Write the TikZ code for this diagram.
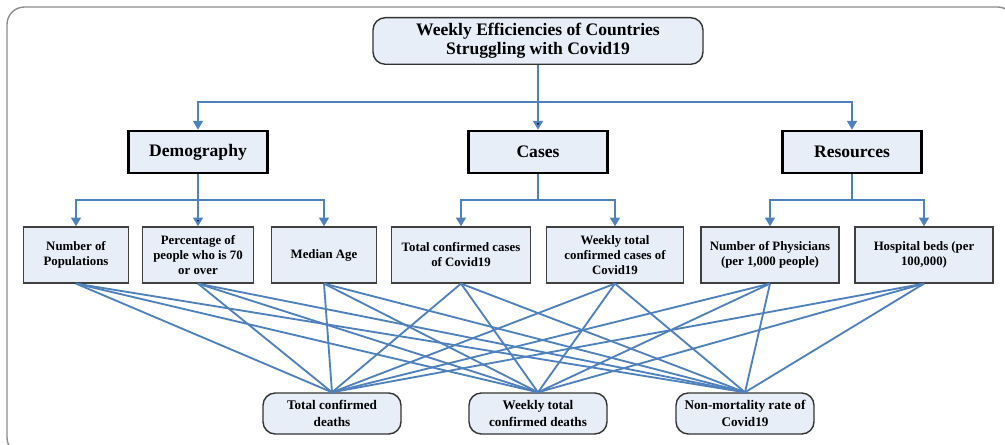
\documentclass[tikz,border=0pt]{standalone}
\usepackage{fontspec}
\setmainfont{Liberation Serif}
\usepackage{tikz}
\usetikzlibrary{positioning,arrows.meta}
\definecolor{linkblue}{RGB}{79,129,189}
\definecolor{boxfill}{RGB}{232,238,248}

\begin{document}
\begin{tikzpicture}[
	root/.style={shape=rectangle,rounded corners=7pt,draw=black!80,fill=boxfill,line width=0.8pt,minimum width=6.6cm,minimum height=0.84cm,align=center,font=\rmfamily\fontsize{10}{10.6}\selectfont\bfseries},
	group/.style={shape=rectangle,draw=black,fill=boxfill,line width=1.4pt,minimum width=2.78cm,minimum height=0.84cm,font=\rmfamily\fontsize{10}{12}\selectfont\bfseries},
	factor/.style={shape=rectangle,draw=black!75,fill=boxfill,line width=0.7pt,minimum height=1.12cm,inner sep=1pt,align=center,font=\rmfamily\fontsize{7.3}{8.5}\selectfont\bfseries},
	output/.style={shape=rectangle,rounded corners=7pt,draw=black!80,fill=boxfill,line width=0.8pt,minimum width=2.76cm,minimum height=0.82cm,align=center,font=\rmfamily\fontsize{7.5}{9.2}\selectfont\bfseries},
	branch/.style={draw=linkblue,line width=1.3pt,-{Triangle[width=5.5pt,length=5pt]}},
	link/.style={draw=linkblue,line width=1.05pt}]
			\useasboundingbox (0,0) rectangle (20.1,-8.9);
			\draw[black!45,line width=0.8pt,rounded corners=0.35cm] (0.14,-0.14) rectangle (20.3,-9.1);
			
			\node[root] (title) at (10.76,-0.82) {Weekly Efficiencies of Countries\\Struggling with Covid19};
			\node[group] (demo) at (3.96,-3.04) {Demography};
			\node[group] (cases) at (10.76,-3.04) {Cases};
			\node[group] (res) at (17.04,-3.04) {Resources};
			\coordinate (bar) at (10.76,-2.04);
			\path[branch](title) edge (cases);
			\path[branch](bar) -| (demo);
			\path[branch](bar) -| (res);
			
			\node[factor,minimum width=2.1cm] (pop) at (1.52,-5.1) {Number of\\Populations};
			\node[factor,minimum width=2.22cm] (pct) at (3.96,-5.1) {Percentage of\\people who is 70\\or over};
			\node[factor,minimum width=2.1cm] (age) at (6.48,-5.1) {Median Age};
			\node[factor,minimum width=2.78cm] (tcc) at (9.22,-5.1) {Total confirmed cases\\of Covid19};
			\node[factor,minimum width=2.74cm] (wtc) at (12.3,-5.1) {Weekly total\\confirmed cases of\\Covid19};
			\node[factor,minimum width=2.76cm] (phys) at (15.4,-5.1) {Number of Physicians\\(per 1,000 people)};
			\node[factor,minimum width=2.76cm] (beds) at (18.48,-5.1) {Hospital beds (per\\100,000)};
			\coordinate (demo-bar) at (3.96,-4);
			\coordinate (cases-bar) at (10.76,-4);
			\coordinate (res-bar) at (17.04,-4);
			\path[branch](demo) edge (pct);
			\path[branch](demo-bar) -| (pop);
			\path[branch](demo-bar) -| (age);
			\path[link,line width=1.3pt](cases) -- (cases-bar);
			\path[branch](cases-bar) -| (tcc);
			\path[branch](cases-bar) -| (wtc);
			\path[link,line width=1.3pt](res) -- (res-bar);
			\path[branch](res-bar) -| (phys);
			\path[branch](res-bar) -| (beds);
			
			\node[output] (tcd) at (6.64,-8.27) {Total confirmed\\deaths};
			\node[output] (wtd) at (10.76,-8.27) {Weekly total\\confirmed deaths};
			\node[output] (nmr) at (14.9,-8.27) {Non-mortality rate of\\Covid19};
			\path[link](pop.south) edge (tcd.north);
			\path[link](pop.south) edge (wtd.north);
			\path[link](pop.south) edge (nmr.north);
			\path[link](pct.south) edge (tcd.north);
			\path[link](pct.south) edge (wtd.north);
			\path[link](pct.south) edge (nmr.north);
			\path[link](age.south) edge (tcd.north);
			\path[link](age.south) edge (wtd.north);
			\path[link](age.south) edge (nmr.north);
			\path[link](tcc.south) edge (tcd.north);
			\path[link](tcc.south) edge (wtd.north);
			\path[link](tcc.south) edge (nmr.north);
			\path[link](wtc.south) edge (tcd.north);
			\path[link](wtc.south) edge (wtd.north);
			\path[link](wtc.south) edge (nmr.north);
			\path[link](phys.south) edge (tcd.north);
			\path[link](phys.south) edge (wtd.north);
			\path[link](phys.south) edge (nmr.north);
			\path[link](beds.south) edge (tcd.north);
			\path[link](beds.south) edge (wtd.north);
			\path[link](beds.south) edge (nmr.north);
\end{tikzpicture}
\end{document}
